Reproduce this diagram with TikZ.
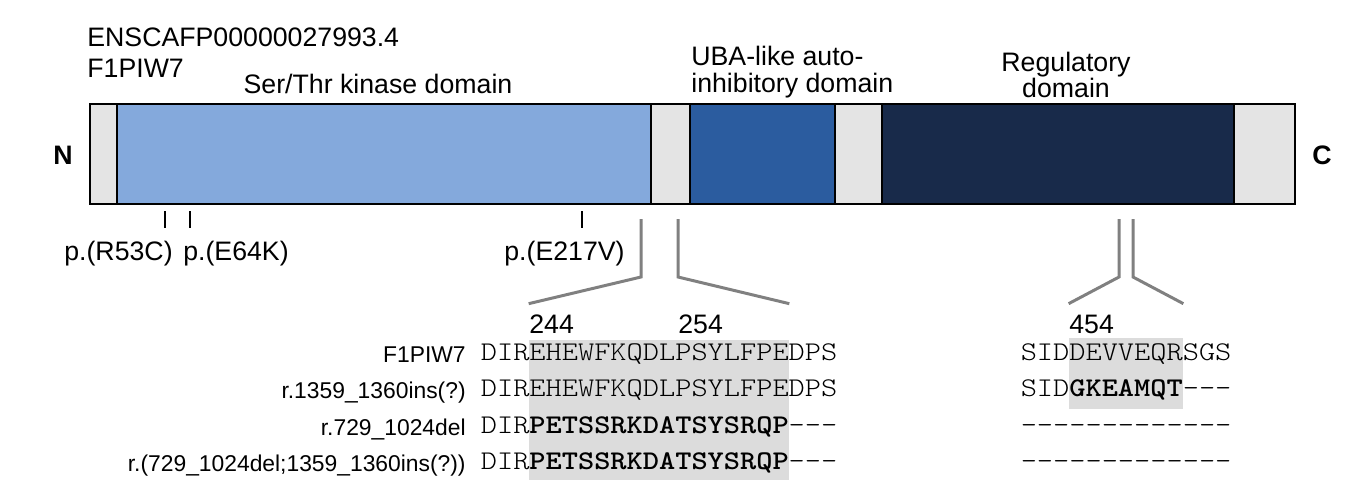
\documentclass[tikz,border=0pt]{standalone}
\usepackage{fontspec}
\setmainfont{Liberation Sans}
\setmonofont{Latin Modern Mono Light}[FakeStretch=1.143]
\usetikzlibrary{positioning}
\definecolor{kinblue}{HTML}{84A9DC}
\definecolor{ubablue}{HTML}{2B5C9F}
\definecolor{regnavy}{HTML}{182A4A}
\definecolor{linkgray}{HTML}{E4E4E4}
\definecolor{hlgray}{HTML}{DCDCDC}
\definecolor{zoomgray}{HTML}{808080}

\begin{document}
\begin{tikzpicture}[
  x=0.02cm, y=-0.02cm,
  lbl/.style={font=\fontsize{15.2}{15.2}\selectfont, inner sep=0pt},
  endlbl/.style={font=\fontsize{15.2}{15.2}\selectfont\bfseries, inner sep=0pt},
  rowlbl/.style={font=\fontsize{13}{13}\selectfont, inner sep=0pt, anchor=base east},
  seq/.style={font=\fontsize{15.37}{15.37}\selectfont\ttfamily, inner sep=0pt, anchor=base west},
  hlbox/.style={fill=hlgray, inner sep=0pt},
  zoomline/.style={zoomgray, line width=1.7pt},
  tick/.style={black, line width=1.5pt},
]

\useasboundingbox (0,0) rectangle (1349,481);

% Dimensions (figure pixels)
\pgfmathsetmacro{\bartop}{104}
\pgfmathsetmacro{\barbot}{204}
\pgfmathsetmacro{\seqL}{480.5}   % left edge of kinase-side sequences
\pgfmathsetmacro{\seqR}{1020.4}  % left edge of regulatory-side sequences
\pgfmathsetmacro{\labx}{466}     % right edge of row labels

% Header
\node[lbl, anchor=base west] (ensid) at (87,46.5) {ENSCAFP00000027993.4};
\node[lbl, anchor=base west] (uniid) at (87,77) {F1PIW7};

% Domain labels
\node[lbl, anchor=base] (kinlbl) at (378,93) {Ser/Thr kinase domain};
\node[lbl, anchor=south west, align=left] (ubalbl) at (691,98.5)
  {UBA-like auto-\\inhibitory domain};
\node[lbl, anchor=south, align=center] (reglbl) at (1066,98.5)
  {Regulatory\\domain};

% --- Protein bar ---
\foreach \xa/\xb/\col in {90/117/linkgray, 117/651/kinblue, 651/690/linkgray,
    690/835/ubablue, 835/882/linkgray, 882/1234/regnavy, 1234/1295/linkgray}
  \filldraw[fill=\col, draw=black, line width=1.2pt] (\xa,\bartop) rectangle (\xb,\barbot);
\draw[black, line width=1.4pt] (90,\bartop) rectangle (1295,\barbot);

\node[endlbl] (nterm) at (63,155) {N};
\node[endlbl] (cterm) at (1322,155) {C};

% --- Variants ---
\draw[tick] (165,211) -- (165,228);
\draw[tick] (190,211) -- (190,228);
\draw[tick] (582,211) -- (582,228);
\node[lbl, anchor=base] (varA) at (118.5,260) {p.(R53C)};
\node[lbl, anchor=base] (varB) at (236,260) {p.(E64K)};
\node[lbl, anchor=base] (varC) at (564.5,260) {p.(E217V)};

% --- Highlighted alignment blocks ---
\node[hlbox, minimum width=5.2cm, minimum height=2.8cm] (hlKin) at (659,410) {};
\node[hlbox, minimum width=2.28cm, minimum height=1.42cm] (hlReg) at (1126,373.5) {};

% --- Zoom connectors ---
\coordinate (cutA) at (641,219);
\coordinate (cutB) at (678,219);
\coordinate (cutC) at (1119,219);
\coordinate (cutD) at (1133,219);
\draw[zoomline] (cutA) -- ++(0,58) -- ([yshift=0.72cm]hlKin.north west);
\draw[zoomline] (cutB) -- ++(0,58) -- ([yshift=0.72cm]hlKin.north east);
\draw[zoomline] (cutC) -- ++(0,58) -- ([yshift=0.68cm]hlReg.north west);
\draw[zoomline] (cutD) -- ++(0,58) -- ([yshift=0.68cm]hlReg.north east);

% Residue numbers
\node[lbl, anchor=base west] (pos244) at (529,333) {244};
\node[lbl, anchor=base west] (pos254) at (678,333) {254};
\node[lbl, anchor=base west] (pos454) at (1069,333) {454};

% --- Alignment rows ---
\node[rowlbl] (rowA) at (\labx,362) {F1PIW7};
\node[rowlbl] (rowB) at (\labx,398.5) {r.1359\_1360ins(?)};
\node[rowlbl] (rowC) at (\labx,435) {r.729\_1024del};
\node[rowlbl] (rowD) at (\labx,471.5) {r.(729\_1024del;1359\_1360ins(?))};

\node[seq] (kinA) at (\seqL,360) {DIREHEWFKQDLPSYLFPEDPS};
\node[seq] (kinB) at (\seqL,396.5) {DIREHEWFKQDLPSYLFPEDPS};
\node[seq] (kinC) at (\seqL,433) {DIR\textbf{PETSSRKDATSYSRQP}---};
\node[seq] (kinD) at (\seqL,469.5) {DIR\textbf{PETSSRKDATSYSRQP}---};

\node[seq] (regA) at (\seqR,360) {SIDDEVVEQRSGS};
\node[seq] (regB) at (\seqR,396.5) {SID\textbf{GKEAMQT}---};
\node[seq] (regC) at (\seqR,433) {-------------};
\node[seq] (regD) at (\seqR,469.5) {-------------};

\end{tikzpicture}
\end{document}
